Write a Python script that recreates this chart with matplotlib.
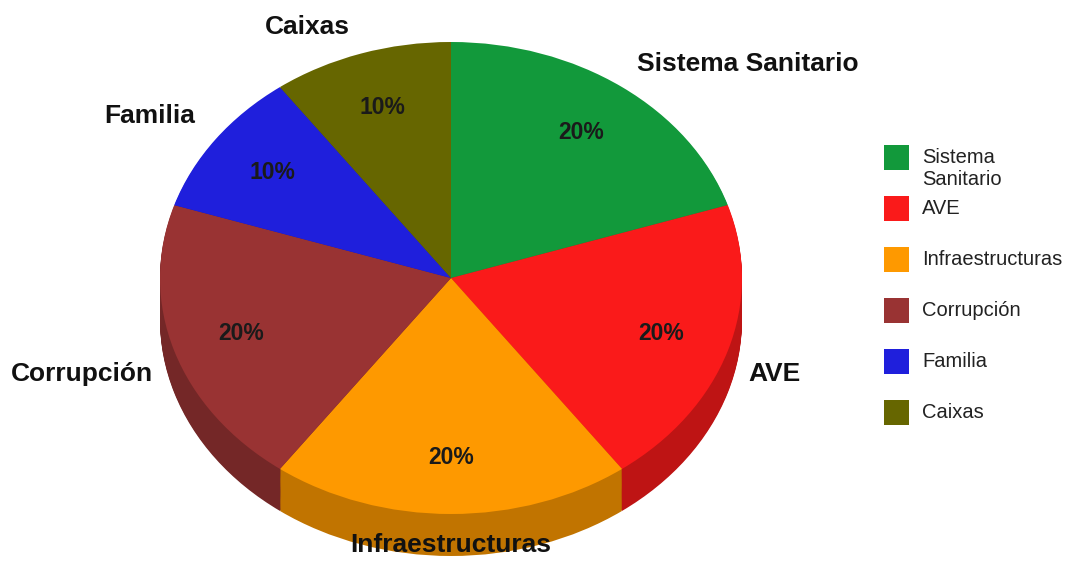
import matplotlib
matplotlib.use("Agg")
import matplotlib.pyplot as plt
import matplotlib.colors as mcolors
from matplotlib.patches import Rectangle
import numpy as np

# data
categories = ["Sistema Sanitario", "AVE", "Infraestructuras", "Corrupción", "Familia", "Caixas"]
shares = [20, 20, 20, 20, 10, 10]
colors = ["#12993b", "#fa1a1a", "#fe9900", "#993333", "#1f1fdc", "#666600"]

plt.rcParams["font.family"] = ["Liberation Sans", "DejaVu Sans"]

W, H = 1072, 561
fig = plt.figure(figsize=(W / 100, H / 100), dpi=100)
fig.patch.set_facecolor("white")
ax = fig.add_axes([0, 0, 1, 1])

# pie geometry (pixels): centre, radii, extrusion depth
cx, cy = 451, 278
rx, ry = 291, 236
depth = 42 / ry

# extruded side: stack of darker pies below the top face
side_colors = [tuple(c * 0.76 for c in mcolors.to_rgb(col)) for col in colors]
for off in np.linspace(depth, 0, 40, endpoint=False):
    ax.pie(shares, colors=side_colors, startangle=90, counterclock=False,
           center=(0, -off), wedgeprops=dict(linewidth=0))

# top face
wedges, texts, autotexts = ax.pie(
    shares, labels=categories, colors=colors, startangle=90, counterclock=False,
    autopct="%.0f%%", pctdistance=0.76, labeldistance=1.12,
    wedgeprops=dict(linewidth=0),
    textprops=dict(fontsize=19, fontweight="bold", color="#111111"),
)
for t in autotexts:
    t.set_fontsize(16.5)
    t.set_color("#1a1a1a")
texts[2].set_ha("center")
texts[2].set_y(texts[2].get_position()[1] - 0.012)

# side labels sit a bit lower / closer because of the 3D depth
for t in (texts[1], texts[3]):
    x, y = t.get_position()
    t.set_position((x * 0.96, y - 0.06))
x, y = texts[4].get_position()
texts[4].set_position((x * 0.97, y + 0.03))
x, y = texts[0].get_position()
texts[0].set_position((x - 0.02, y))

ax.set_aspect("auto")
ax.set_xlim(-cx / rx, (W - cx) / rx)
ax.set_ylim(-(H - cy) / ry, cy / ry)
ax.axis("off")

# legend (drawn in pixel space)
lax = fig.add_axes([0, 0, 1, 1], zorder=5)
lax.set_xlim(0, W)
lax.set_ylim(H, 0)
lax.axis("off")
for i, (name, col) in enumerate(zip(categories, colors)):
    yc = 157 + 51 * i
    lax.add_patch(Rectangle((884, yc - 12.5), 25, 25, facecolor=col, edgecolor="none"))
    label = name.replace(" ", "\n")
    n_lines = label.count("\n") + 1
    lax.text(922, yc + (n_lines - 1) * 11, label, fontsize=14.5, color="#222222",
             va="center", ha="left", linespacing=1.2)

fig.savefig("out.png", dpi=100, facecolor="white")
